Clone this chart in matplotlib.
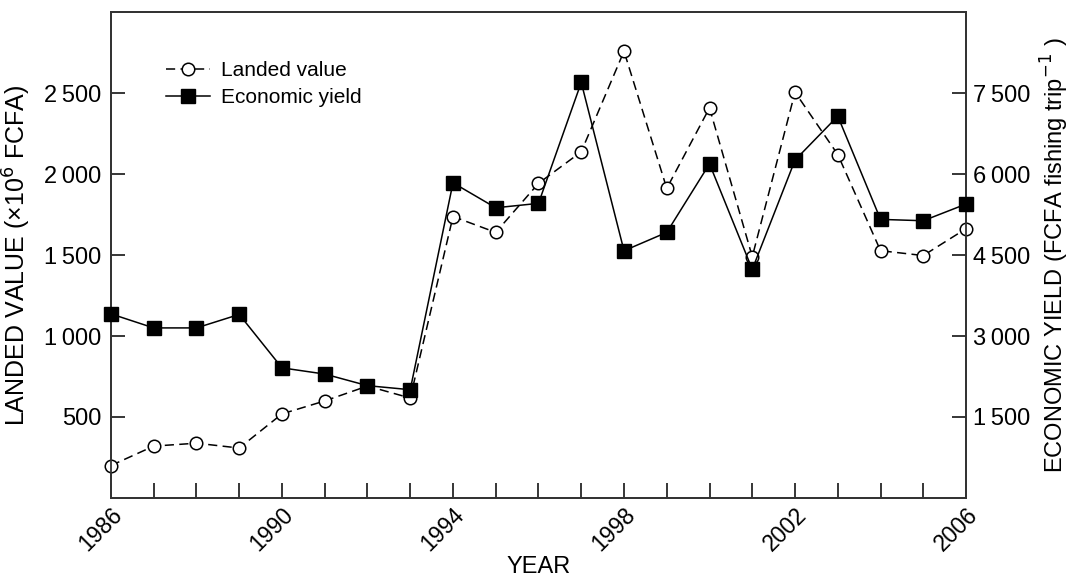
import numpy as np
import matplotlib
matplotlib.use('Agg')
from matplotlib import pyplot as plt
from matplotlib.ticker import FuncFormatter

plt.rcParams['font.family'] = ['Liberation Sans', 'DejaVu Sans']

years = list(range(1986, 2007))
# landed value (x10^6 FCFA), left axis
landed = [200, 320, 338, 308, 519, 599, 691, 617, 1738, 1640, 1943, 2138, 2759,
          1912, 2409, 1490, 2506, 2121, 1527, 1497, 1663]
# economic yield (FCFA / fishing trip), right axis
yield_ = [3410, 3150, 3150, 3400, 2410, 2295, 2080, 2005, 5839, 5376, 5458, 7699,
          4580, 4920, 6190, 4235, 6260, 7074, 5161, 5136, 5445]

left_ticks = [500, 1000, 1500, 2000, 2500]
right_ticks = [1500, 3000, 4500, 6000, 7500]
year_labels = [1986, 1990, 1994, 1998, 2002, 2006]


def thin(v, pos=None):
    s = '%d' % v
    if len(s) > 3:
        s = s[:-3] + '\u2009' + s[-3:]
    return s


fig = plt.figure(figsize=(10.71, 5.81), dpi=100)
ax = fig.add_subplot(111)
fig.subplots_adjust(left=0.1036, right=0.902, top=0.979, bottom=0.143)
ax2 = ax.twinx()

l1, = ax.plot(years, landed, color='black', lw=1.1, ls=(0, (6, 3.5)), marker='o',
              ms=9, mfc='white', mec='black', mew=1.1, clip_on=False, zorder=3,
              label='Landed value')
l2, = ax2.plot(years, yield_, color='black', lw=1.1, ls='-', marker='s',
               ms=9.5, mfc='black', mec='black', clip_on=False, zorder=3,
               label='Economic yield')

ax.set_xlim(1986, 2006)
ax.set_ylim(0, 3000)
ax2.set_ylim(0, 9000)

ax.set_xticks(years)
ax.set_xticklabels([str(y) if y in year_labels else '' for y in years],
                   rotation=45, ha='right', rotation_mode='anchor')
ax.tick_params(axis='x', direction='in', length=11, width=1.1, labelsize=16.5, pad=4)

ax.set_yticks(left_ticks)
ax.yaxis.set_major_formatter(FuncFormatter(thin))
ax.tick_params(axis='y', direction='in', length=10, width=1.1, labelsize=17, pad=7)

ax2.set_yticks(right_ticks)
ax2.yaxis.set_major_formatter(FuncFormatter(thin))
ax2.tick_params(axis='y', direction='in', length=10, width=1.1, labelsize=17, pad=5)

for a in (ax, ax2):
    for sp in a.spines.values():
        sp.set_color('0.2')
        sp.set_linewidth(1.3)

ax.set_xlabel('YEAR', fontsize=17, labelpad=0)
ax.set_ylabel('LANDED VALUE (\u00d710$^{6}$ FCFA)', fontsize=18, labelpad=8)
ax2.set_ylabel('ECONOMIC YIELD (FCFA fishing trip$^{-1}$ )', fontsize=17, labelpad=6)

ax2.legend(handles=[l1, l2], loc='upper left', bbox_to_anchor=(0.043, 0.938),
           frameon=False, fontsize=15, handlelength=2.1, handletextpad=0.5,
           labelspacing=0.4)

fig.savefig('out.png', dpi=100)
